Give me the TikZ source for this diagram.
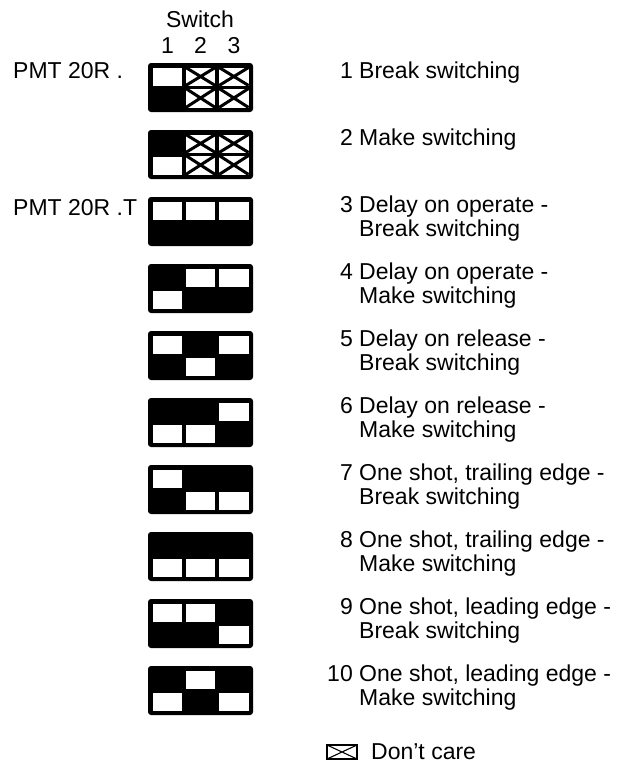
\documentclass[tikz,border=0pt]{standalone}
\usepackage{fontspec}
\setmainfont{Liberation Sans}
\newcommand\swblk[2]{%
  \fill[black,rounded corners=3pt] (148,#1) rectangle (253,#1+49);
  \foreach \c [count=\i from 0] in {#2} {
    \pgfmathsetmacro\xa{152.5+\i*33.3}
    \pgfmathsetmacro\xb{\xa+29.5}
    \if\c t
      \fill[white] (\xa,#1+4.5) rectangle (\xb,#1+22.5);
    \fi
    \if\c b
      \fill[white] (\xa,#1+26.5) rectangle (\xb,#1+44.5);
    \fi
    \if\c x
      \fill[white] (\xa,#1+4.5) rectangle (\xb,#1+22.5);
      \fill[white] (\xa,#1+25.5) rectangle (\xb,#1+44.5);
      \draw[line width=3pt] (\xa,#1+4.5) -- (\xb,#1+22.5) (\xa,#1+22.5) -- (\xb,#1+4.5);
      \draw[line width=3pt] (\xa,#1+25.5) -- (\xb,#1+44.5) (\xa,#1+44.5) -- (\xb,#1+25.5);
    \fi
  }%
}
\begin{document}
\begin{tikzpicture}[x=1pt,y=-1pt,
  txt/.style={inner sep=0pt, font=\fontsize{23}{24}\selectfont},
  item/.style={txt, anchor=north west, align=left}]
\useasboundingbox (0,0) rectangle (638,769);
\fill[white] (0,0) rectangle (638,769);

% header
\node[txt, anchor=base] (sw) at (200,27) {Switch};
\node[txt, anchor=base] (c1) at (167.5,53) {1};
\node[txt, anchor=base] (c2) at (200.5,53) {2};
\node[txt, anchor=base] (c3) at (234,53) {3};

% left labels
\node[txt, anchor=base west] (pmt1) at (13,78) {PMT 20R .};
\node[txt, anchor=base west] (pmt2) at (13,215) {PMT 20R .T};

% switch blocks
\swblk{63}{t,x,x}
\swblk{130}{b,x,x}
\swblk{197}{t,t,t}
\swblk{264}{b,t,t}
\swblk{331}{t,b,t}
\swblk{398}{b,b,t}
\swblk{465}{t,b,b}
\swblk{532}{b,b,b}
\swblk{599}{t,t,b}
\swblk{666}{b,t,b}

% descriptions
\node[item] (d1) at (359,62) {\llap{1\ }Break switching};
\node[item] (d2) at (359,129) {\llap{2\ }Make switching};
\node[item] (d3) at (359,196) {\llap{3\ }Delay on operate -\\Break switching};
\node[item] (d4) at (359,263) {\llap{4\ }Delay on operate -\\Make switching};
\node[item] (d5) at (359,330) {\llap{5\ }Delay on release -\\Break switching};
\node[item] (d6) at (359,397) {\llap{6\ }Delay on release -\\Make switching};
\node[item] (d7) at (359,464) {\llap{7\ }One shot, trailing edge -\\Break switching};
\node[item] (d8) at (359,531) {\llap{8\ }One shot, trailing edge -\\Make switching};
\node[item] (d9) at (359,598) {\llap{9\ }One shot, leading edge -\\Break switching};
\node[item] (d10) at (359,665) {\llap{10\ }One shot, leading edge -\\Make switching};

% legend
\draw[line width=1.1pt] (327,745) rectangle (357,759);
\draw[line width=1.1pt] (327,745) -- (357,759) (327,759) -- (357,745);
\node[txt, anchor=base west] (dc) at (371,759) {Don’t care};
\end{tikzpicture}
\end{document}
